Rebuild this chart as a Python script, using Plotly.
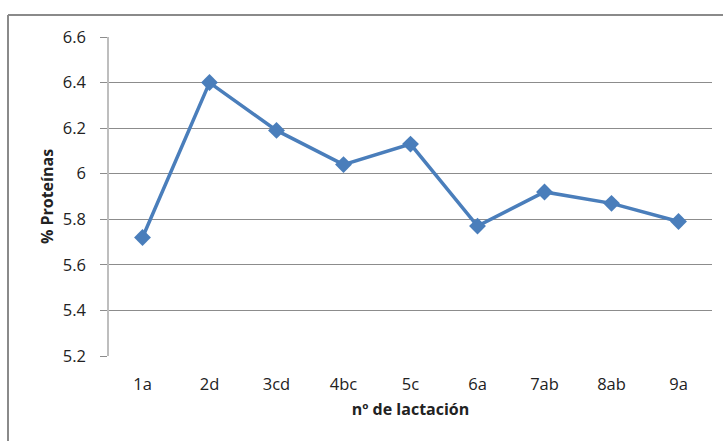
import plotly.graph_objects as go

# Protein content by lactation number
lactacion = ["1a", "2d", "3cd", "4bc", "5c", "6a", "7ab", "8ab", "9a"]
proteinas = [5.72, 6.40, 6.19, 6.04, 6.13, 5.77, 5.92, 5.87, 5.79]
y_ticks = [5.2, 5.4, 5.6, 5.8, 6.0, 6.2, 6.4, 6.6]
y_tick_text = ["5.2", "5.4", "5.6", "5.8", "6", "6.2", "6.4", "6.6"]

W, H = 723, 441
L, R, T, B = 109, 11, 37, 85
plot_w = W - L - R
plot_h = H - T - B

font_family = "Open Sans, Noto Sans, sans-serif"
line_color = "#4A7EBB"

fig = go.Figure()
fig.add_trace(go.Scatter(
    x=lactacion,
    y=proteinas,
    mode="lines+markers",
    line=dict(color=line_color, width=3.5),
    marker=dict(symbol="diamond", size=13, color=line_color),
    showlegend=False,
))

# outer chart frame (top and left edges fall inside the page)
fx = (8 - L) / plot_w
fy = (H - B - 15) / plot_h
frame = dict(color="#8A8A8A", width=2)
fig.add_shape(type="line", xref="paper", yref="paper",
              x0=fx, x1=(W + 5 - L) / plot_w, y0=fy, y1=fy, line=frame)
fig.add_shape(type="line", xref="paper", yref="paper",
              x0=fx, x1=fx, y0=fy, y1=-0.5, line=frame)

fig.update_layout(
    width=W, height=H,
    margin=dict(l=L, r=R, t=T, b=B),
    paper_bgcolor="white",
    plot_bgcolor="white",
    font=dict(family=font_family, size=16.5, color="#222222"),
    xaxis=dict(
        type="category",
        range=[-0.5, 8.5],
        showgrid=False,
        showline=False,
        ticks="",
        zeroline=False,
        tickfont=dict(size=16.5),
        ticklabelstandoff=16,
        title=dict(text="<b>nº de lactación</b>", font=dict(size=16), standoff=10),
    ),
    yaxis=dict(
        range=[5.2, 6.6],
        tickvals=y_ticks,
        ticktext=y_tick_text,
        showgrid=True,
        gridcolor="#8C8C8C",
        gridwidth=1,
        showline=True,
        linecolor="#BEBEBE",
        linewidth=1.5,
        ticks="outside",
        ticklen=7,
        tickcolor="#8C8C8C",
        zeroline=False,
        tickfont=dict(size=16.5),
        ticklabelstandoff=11,
        title=dict(text="<b>% Proteínas</b>", font=dict(size=16), standoff=5),
    ),
)

fig.write_html("out.html")
